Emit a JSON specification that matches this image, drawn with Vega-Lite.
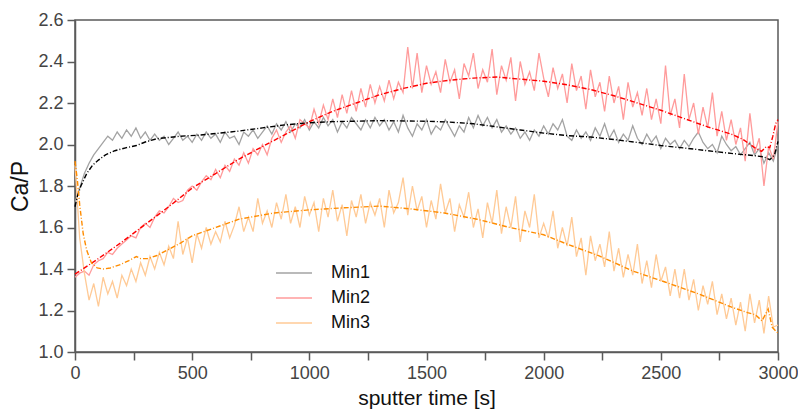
{
"$schema": "https://vega.github.io/schema/vega-lite/v6.json",
"width": 703, "height": 332,
"autosize": {"type": "none"},
"padding": {"left": 75, "top": 20, "right": 20, "bottom": 64},
"config": {
  "view": {"stroke": "#5a5a5a", "strokeWidth": 1.5},
  "font": "Liberation Sans",
  "axis": {"grid": false, "domainColor": "#5a5a5a", "domainWidth": 1.5, "tickColor": "#5a5a5a", "tickWidth": 1.5, "tickSize": 8, "labelFontSize": 18, "labelColor": "#444444", "labelPadding": 4, "labelFlush": false, "titleFontSize": 21, "titleFontWeight": "normal", "titleColor": "#111111"}
},
"datasets": {
"raw": [
{"t":0,"s":"Min1","v":1.72},{"t":20,"s":"Min1","v":1.79},{"t":40,"s":"Min1","v":1.86},{"t":60,"s":"Min1","v":1.91},{"t":80,"s":"Min1","v":1.95},{"t":100,"s":"Min1","v":1.98},{"t":120,"s":"Min1","v":2.01},{"t":140,"s":"Min1","v":2.04},{"t":160,"s":"Min1","v":2.02},{"t":180,"s":"Min1","v":2.06},{"t":200,"s":"Min1","v":2.03},{"t":220,"s":"Min1","v":2.07},{"t":240,"s":"Min1","v":2.04},{"t":260,"s":"Min1","v":2.08},{"t":280,"s":"Min1","v":2.03},{"t":300,"s":"Min1","v":2.06},{"t":320,"s":"Min1","v":2.02},{"t":340,"s":"Min1","v":2.05},{"t":360,"s":"Min1","v":2.02},{"t":380,"s":"Min1","v":2.04},{"t":400,"s":"Min1","v":2.0},{"t":420,"s":"Min1","v":2.03},{"t":440,"s":"Min1","v":2.06},{"t":460,"s":"Min1","v":2.02},{"t":480,"s":"Min1","v":2.04},{"t":500,"s":"Min1","v":2.01},{"t":520,"s":"Min1","v":2.05},{"t":540,"s":"Min1","v":2.02},{"t":560,"s":"Min1","v":2.06},{"t":580,"s":"Min1","v":2.03},{"t":600,"s":"Min1","v":2.05},{"t":620,"s":"Min1","v":2.01},{"t":640,"s":"Min1","v":2.06},{"t":660,"s":"Min1","v":2.03},{"t":680,"s":"Min1","v":2.04},{"t":700,"s":"Min1","v":2.0},{"t":720,"s":"Min1","v":2.06},{"t":740,"s":"Min1","v":2.04},{"t":760,"s":"Min1","v":2.07},{"t":780,"s":"Min1","v":2.03},{"t":800,"s":"Min1","v":2.06},{"t":820,"s":"Min1","v":2.09},{"t":840,"s":"Min1","v":2.05},{"t":860,"s":"Min1","v":2.1},{"t":880,"s":"Min1","v":2.07},{"t":900,"s":"Min1","v":2.11},{"t":920,"s":"Min1","v":2.06},{"t":940,"s":"Min1","v":2.1},{"t":960,"s":"Min1","v":2.08},{"t":980,"s":"Min1","v":2.12},{"t":1000,"s":"Min1","v":2.07},{"t":1020,"s":"Min1","v":2.11},{"t":1040,"s":"Min1","v":2.08},{"t":1060,"s":"Min1","v":2.13},{"t":1080,"s":"Min1","v":2.09},{"t":1100,"s":"Min1","v":2.12},{"t":1120,"s":"Min1","v":2.06},{"t":1140,"s":"Min1","v":2.11},{"t":1160,"s":"Min1","v":2.08},{"t":1180,"s":"Min1","v":2.13},{"t":1200,"s":"Min1","v":2.1},{"t":1220,"s":"Min1","v":2.07},{"t":1240,"s":"Min1","v":2.12},{"t":1260,"s":"Min1","v":2.08},{"t":1280,"s":"Min1","v":2.13},{"t":1300,"s":"Min1","v":2.09},{"t":1320,"s":"Min1","v":2.12},{"t":1340,"s":"Min1","v":2.07},{"t":1360,"s":"Min1","v":2.11},{"t":1380,"s":"Min1","v":2.06},{"t":1400,"s":"Min1","v":2.14},{"t":1420,"s":"Min1","v":2.08},{"t":1440,"s":"Min1","v":2.04},{"t":1460,"s":"Min1","v":2.1},{"t":1480,"s":"Min1","v":2.07},{"t":1500,"s":"Min1","v":2.12},{"t":1520,"s":"Min1","v":2.05},{"t":1540,"s":"Min1","v":2.09},{"t":1560,"s":"Min1","v":2.07},{"t":1580,"s":"Min1","v":2.12},{"t":1600,"s":"Min1","v":2.08},{"t":1620,"s":"Min1","v":2.04},{"t":1640,"s":"Min1","v":2.09},{"t":1660,"s":"Min1","v":2.06},{"t":1680,"s":"Min1","v":2.13},{"t":1700,"s":"Min1","v":2.08},{"t":1720,"s":"Min1","v":2.14},{"t":1740,"s":"Min1","v":2.09},{"t":1760,"s":"Min1","v":2.13},{"t":1780,"s":"Min1","v":2.08},{"t":1800,"s":"Min1","v":2.12},{"t":1820,"s":"Min1","v":2.06},{"t":1840,"s":"Min1","v":2.09},{"t":1860,"s":"Min1","v":2.05},{"t":1880,"s":"Min1","v":2.08},{"t":1900,"s":"Min1","v":2.03},{"t":1920,"s":"Min1","v":2.06},{"t":1940,"s":"Min1","v":2.02},{"t":1960,"s":"Min1","v":2.07},{"t":1980,"s":"Min1","v":2.04},{"t":2000,"s":"Min1","v":2.09},{"t":2020,"s":"Min1","v":2.05},{"t":2040,"s":"Min1","v":2.1},{"t":2060,"s":"Min1","v":2.07},{"t":2080,"s":"Min1","v":2.12},{"t":2100,"s":"Min1","v":2.04},{"t":2120,"s":"Min1","v":2.02},{"t":2140,"s":"Min1","v":2.07},{"t":2160,"s":"Min1","v":2.03},{"t":2180,"s":"Min1","v":2.06},{"t":2200,"s":"Min1","v":2.02},{"t":2220,"s":"Min1","v":2.08},{"t":2240,"s":"Min1","v":2.04},{"t":2260,"s":"Min1","v":2.1},{"t":2280,"s":"Min1","v":2.03},{"t":2300,"s":"Min1","v":2.07},{"t":2320,"s":"Min1","v":2.01},{"t":2340,"s":"Min1","v":2.05},{"t":2360,"s":"Min1","v":2.02},{"t":2380,"s":"Min1","v":2.09},{"t":2400,"s":"Min1","v":2.03},{"t":2420,"s":"Min1","v":2.0},{"t":2440,"s":"Min1","v":2.05},{"t":2460,"s":"Min1","v":2.01},{"t":2480,"s":"Min1","v":2.04},{"t":2500,"s":"Min1","v":1.98},{"t":2520,"s":"Min1","v":2.03},{"t":2540,"s":"Min1","v":2.0},{"t":2560,"s":"Min1","v":2.02},{"t":2580,"s":"Min1","v":1.98},{"t":2600,"s":"Min1","v":2.02},{"t":2620,"s":"Min1","v":1.99},{"t":2640,"s":"Min1","v":2.03},{"t":2660,"s":"Min1","v":2.06},{"t":2680,"s":"Min1","v":2.01},{"t":2700,"s":"Min1","v":1.98},{"t":2720,"s":"Min1","v":2.0},{"t":2740,"s":"Min1","v":1.96},{"t":2760,"s":"Min1","v":2.04},{"t":2780,"s":"Min1","v":2.0},{"t":2800,"s":"Min1","v":1.97},{"t":2820,"s":"Min1","v":1.99},{"t":2840,"s":"Min1","v":1.95},{"t":2860,"s":"Min1","v":1.98},{"t":2880,"s":"Min1","v":2.01},{"t":2900,"s":"Min1","v":1.95},{"t":2920,"s":"Min1","v":1.98},{"t":2940,"s":"Min1","v":1.91},{"t":2960,"s":"Min1","v":1.96},{"t":2980,"s":"Min1","v":1.92},{"t":3000,"s":"Min1","v":2.0},
{"t":0,"s":"Min2","v":1.36},{"t":20,"s":"Min2","v":1.38},{"t":40,"s":"Min2","v":1.39},{"t":60,"s":"Min2","v":1.37},{"t":80,"s":"Min2","v":1.42},{"t":100,"s":"Min2","v":1.44},{"t":120,"s":"Min2","v":1.45},{"t":140,"s":"Min2","v":1.48},{"t":160,"s":"Min2","v":1.47},{"t":180,"s":"Min2","v":1.5},{"t":200,"s":"Min2","v":1.52},{"t":220,"s":"Min2","v":1.54},{"t":240,"s":"Min2","v":1.56},{"t":260,"s":"Min2","v":1.55},{"t":280,"s":"Min2","v":1.6},{"t":300,"s":"Min2","v":1.62},{"t":320,"s":"Min2","v":1.6},{"t":340,"s":"Min2","v":1.65},{"t":360,"s":"Min2","v":1.68},{"t":380,"s":"Min2","v":1.67},{"t":400,"s":"Min2","v":1.7},{"t":420,"s":"Min2","v":1.74},{"t":440,"s":"Min2","v":1.72},{"t":460,"s":"Min2","v":1.73},{"t":480,"s":"Min2","v":1.78},{"t":500,"s":"Min2","v":1.8},{"t":520,"s":"Min2","v":1.78},{"t":540,"s":"Min2","v":1.82},{"t":560,"s":"Min2","v":1.85},{"t":580,"s":"Min2","v":1.83},{"t":600,"s":"Min2","v":1.88},{"t":620,"s":"Min2","v":1.84},{"t":640,"s":"Min2","v":1.9},{"t":660,"s":"Min2","v":1.87},{"t":680,"s":"Min2","v":1.93},{"t":700,"s":"Min2","v":1.9},{"t":720,"s":"Min2","v":1.96},{"t":740,"s":"Min2","v":1.91},{"t":760,"s":"Min2","v":1.98},{"t":780,"s":"Min2","v":1.95},{"t":800,"s":"Min2","v":2.0},{"t":820,"s":"Min2","v":1.95},{"t":840,"s":"Min2","v":2.03},{"t":860,"s":"Min2","v":2.07},{"t":880,"s":"Min2","v":2.01},{"t":900,"s":"Min2","v":2.06},{"t":920,"s":"Min2","v":2.09},{"t":940,"s":"Min2","v":2.03},{"t":960,"s":"Min2","v":2.12},{"t":980,"s":"Min2","v":2.1},{"t":1000,"s":"Min2","v":2.08},{"t":1020,"s":"Min2","v":2.17},{"t":1040,"s":"Min2","v":2.1},{"t":1060,"s":"Min2","v":2.19},{"t":1080,"s":"Min2","v":2.12},{"t":1100,"s":"Min2","v":2.22},{"t":1120,"s":"Min2","v":2.13},{"t":1140,"s":"Min2","v":2.24},{"t":1160,"s":"Min2","v":2.15},{"t":1180,"s":"Min2","v":2.26},{"t":1200,"s":"Min2","v":2.16},{"t":1220,"s":"Min2","v":2.27},{"t":1240,"s":"Min2","v":2.18},{"t":1260,"s":"Min2","v":2.29},{"t":1280,"s":"Min2","v":2.2},{"t":1300,"s":"Min2","v":2.28},{"t":1320,"s":"Min2","v":2.21},{"t":1340,"s":"Min2","v":2.31},{"t":1360,"s":"Min2","v":2.22},{"t":1380,"s":"Min2","v":2.3},{"t":1400,"s":"Min2","v":2.25},{"t":1420,"s":"Min2","v":2.47},{"t":1440,"s":"Min2","v":2.27},{"t":1460,"s":"Min2","v":2.44},{"t":1480,"s":"Min2","v":2.25},{"t":1500,"s":"Min2","v":2.38},{"t":1520,"s":"Min2","v":2.29},{"t":1540,"s":"Min2","v":2.35},{"t":1560,"s":"Min2","v":2.25},{"t":1580,"s":"Min2","v":2.41},{"t":1600,"s":"Min2","v":2.3},{"t":1620,"s":"Min2","v":2.36},{"t":1640,"s":"Min2","v":2.22},{"t":1660,"s":"Min2","v":2.39},{"t":1680,"s":"Min2","v":2.33},{"t":1700,"s":"Min2","v":2.44},{"t":1720,"s":"Min2","v":2.27},{"t":1740,"s":"Min2","v":2.36},{"t":1760,"s":"Min2","v":2.3},{"t":1780,"s":"Min2","v":2.46},{"t":1800,"s":"Min2","v":2.24},{"t":1820,"s":"Min2","v":2.38},{"t":1840,"s":"Min2","v":2.31},{"t":1860,"s":"Min2","v":2.42},{"t":1880,"s":"Min2","v":2.21},{"t":1900,"s":"Min2","v":2.4},{"t":1920,"s":"Min2","v":2.29},{"t":1940,"s":"Min2","v":2.35},{"t":1960,"s":"Min2","v":2.26},{"t":1980,"s":"Min2","v":2.44},{"t":2000,"s":"Min2","v":2.32},{"t":2020,"s":"Min2","v":2.23},{"t":2040,"s":"Min2","v":2.37},{"t":2060,"s":"Min2","v":2.27},{"t":2080,"s":"Min2","v":2.34},{"t":2100,"s":"Min2","v":2.2},{"t":2120,"s":"Min2","v":2.39},{"t":2140,"s":"Min2","v":2.26},{"t":2160,"s":"Min2","v":2.33},{"t":2180,"s":"Min2","v":2.17},{"t":2200,"s":"Min2","v":2.36},{"t":2220,"s":"Min2","v":2.23},{"t":2240,"s":"Min2","v":2.3},{"t":2260,"s":"Min2","v":2.16},{"t":2280,"s":"Min2","v":2.33},{"t":2300,"s":"Min2","v":2.2},{"t":2320,"s":"Min2","v":2.28},{"t":2340,"s":"Min2","v":2.12},{"t":2360,"s":"Min2","v":2.3},{"t":2380,"s":"Min2","v":2.18},{"t":2400,"s":"Min2","v":2.25},{"t":2420,"s":"Min2","v":2.14},{"t":2440,"s":"Min2","v":2.27},{"t":2460,"s":"Min2","v":2.12},{"t":2480,"s":"Min2","v":2.22},{"t":2500,"s":"Min2","v":2.1},{"t":2520,"s":"Min2","v":2.38},{"t":2540,"s":"Min2","v":2.14},{"t":2560,"s":"Min2","v":2.22},{"t":2580,"s":"Min2","v":2.08},{"t":2600,"s":"Min2","v":2.34},{"t":2620,"s":"Min2","v":2.12},{"t":2640,"s":"Min2","v":2.2},{"t":2660,"s":"Min2","v":2.05},{"t":2680,"s":"Min2","v":2.18},{"t":2700,"s":"Min2","v":2.08},{"t":2720,"s":"Min2","v":2.25},{"t":2740,"s":"Min2","v":2.04},{"t":2760,"s":"Min2","v":2.16},{"t":2780,"s":"Min2","v":2.02},{"t":2800,"s":"Min2","v":2.12},{"t":2820,"s":"Min2","v":2.0},{"t":2840,"s":"Min2","v":2.08},{"t":2860,"s":"Min2","v":1.92},{"t":2880,"s":"Min2","v":2.15},{"t":2900,"s":"Min2","v":1.96},{"t":2920,"s":"Min2","v":2.03},{"t":2940,"s":"Min2","v":1.8},{"t":2960,"s":"Min2","v":1.99},{"t":2980,"s":"Min2","v":1.93},{"t":3000,"s":"Min2","v":2.11},
{"t":0,"s":"Min3","v":1.9},{"t":20,"s":"Min3","v":1.55},{"t":40,"s":"Min3","v":1.38},{"t":60,"s":"Min3","v":1.25},{"t":80,"s":"Min3","v":1.33},{"t":100,"s":"Min3","v":1.22},{"t":120,"s":"Min3","v":1.36},{"t":140,"s":"Min3","v":1.28},{"t":160,"s":"Min3","v":1.34},{"t":180,"s":"Min3","v":1.26},{"t":200,"s":"Min3","v":1.37},{"t":220,"s":"Min3","v":1.32},{"t":240,"s":"Min3","v":1.4},{"t":260,"s":"Min3","v":1.34},{"t":280,"s":"Min3","v":1.43},{"t":300,"s":"Min3","v":1.37},{"t":320,"s":"Min3","v":1.46},{"t":340,"s":"Min3","v":1.4},{"t":360,"s":"Min3","v":1.48},{"t":380,"s":"Min3","v":1.42},{"t":400,"s":"Min3","v":1.51},{"t":420,"s":"Min3","v":1.45},{"t":440,"s":"Min3","v":1.63},{"t":460,"s":"Min3","v":1.47},{"t":480,"s":"Min3","v":1.55},{"t":500,"s":"Min3","v":1.43},{"t":520,"s":"Min3","v":1.57},{"t":540,"s":"Min3","v":1.5},{"t":560,"s":"Min3","v":1.6},{"t":580,"s":"Min3","v":1.52},{"t":600,"s":"Min3","v":1.58},{"t":620,"s":"Min3","v":1.53},{"t":640,"s":"Min3","v":1.63},{"t":660,"s":"Min3","v":1.55},{"t":680,"s":"Min3","v":1.61},{"t":700,"s":"Min3","v":1.7},{"t":720,"s":"Min3","v":1.58},{"t":740,"s":"Min3","v":1.65},{"t":760,"s":"Min3","v":1.58},{"t":780,"s":"Min3","v":1.74},{"t":800,"s":"Min3","v":1.62},{"t":820,"s":"Min3","v":1.68},{"t":840,"s":"Min3","v":1.6},{"t":860,"s":"Min3","v":1.72},{"t":880,"s":"Min3","v":1.64},{"t":900,"s":"Min3","v":1.76},{"t":920,"s":"Min3","v":1.62},{"t":940,"s":"Min3","v":1.7},{"t":960,"s":"Min3","v":1.6},{"t":980,"s":"Min3","v":1.75},{"t":1000,"s":"Min3","v":1.66},{"t":1020,"s":"Min3","v":1.72},{"t":1040,"s":"Min3","v":1.58},{"t":1060,"s":"Min3","v":1.74},{"t":1080,"s":"Min3","v":1.65},{"t":1100,"s":"Min3","v":1.78},{"t":1120,"s":"Min3","v":1.63},{"t":1140,"s":"Min3","v":1.71},{"t":1160,"s":"Min3","v":1.56},{"t":1180,"s":"Min3","v":1.73},{"t":1200,"s":"Min3","v":1.65},{"t":1220,"s":"Min3","v":1.76},{"t":1240,"s":"Min3","v":1.62},{"t":1260,"s":"Min3","v":1.72},{"t":1280,"s":"Min3","v":1.66},{"t":1300,"s":"Min3","v":1.74},{"t":1320,"s":"Min3","v":1.6},{"t":1340,"s":"Min3","v":1.78},{"t":1360,"s":"Min3","v":1.67},{"t":1380,"s":"Min3","v":1.72},{"t":1400,"s":"Min3","v":1.84},{"t":1420,"s":"Min3","v":1.66},{"t":1440,"s":"Min3","v":1.8},{"t":1460,"s":"Min3","v":1.68},{"t":1480,"s":"Min3","v":1.75},{"t":1500,"s":"Min3","v":1.6},{"t":1520,"s":"Min3","v":1.73},{"t":1540,"s":"Min3","v":1.64},{"t":1560,"s":"Min3","v":1.81},{"t":1580,"s":"Min3","v":1.67},{"t":1600,"s":"Min3","v":1.74},{"t":1620,"s":"Min3","v":1.58},{"t":1640,"s":"Min3","v":1.71},{"t":1660,"s":"Min3","v":1.65},{"t":1680,"s":"Min3","v":1.77},{"t":1700,"s":"Min3","v":1.6},{"t":1720,"s":"Min3","v":1.69},{"t":1740,"s":"Min3","v":1.55},{"t":1760,"s":"Min3","v":1.72},{"t":1780,"s":"Min3","v":1.62},{"t":1800,"s":"Min3","v":1.78},{"t":1820,"s":"Min3","v":1.57},{"t":1840,"s":"Min3","v":1.7},{"t":1860,"s":"Min3","v":1.6},{"t":1880,"s":"Min3","v":1.75},{"t":1900,"s":"Min3","v":1.53},{"t":1920,"s":"Min3","v":1.68},{"t":1940,"s":"Min3","v":1.6},{"t":1960,"s":"Min3","v":1.76},{"t":1980,"s":"Min3","v":1.55},{"t":2000,"s":"Min3","v":1.62},{"t":2020,"s":"Min3","v":1.55},{"t":2040,"s":"Min3","v":1.68},{"t":2060,"s":"Min3","v":1.5},{"t":2080,"s":"Min3","v":1.6},{"t":2100,"s":"Min3","v":1.51},{"t":2120,"s":"Min3","v":1.65},{"t":2140,"s":"Min3","v":1.46},{"t":2160,"s":"Min3","v":1.55},{"t":2180,"s":"Min3","v":1.37},{"t":2200,"s":"Min3","v":1.56},{"t":2220,"s":"Min3","v":1.44},{"t":2240,"s":"Min3","v":1.52},{"t":2260,"s":"Min3","v":1.41},{"t":2280,"s":"Min3","v":1.58},{"t":2300,"s":"Min3","v":1.39},{"t":2320,"s":"Min3","v":1.5},{"t":2340,"s":"Min3","v":1.36},{"t":2360,"s":"Min3","v":1.47},{"t":2380,"s":"Min3","v":1.37},{"t":2400,"s":"Min3","v":1.52},{"t":2420,"s":"Min3","v":1.33},{"t":2440,"s":"Min3","v":1.44},{"t":2460,"s":"Min3","v":1.31},{"t":2480,"s":"Min3","v":1.47},{"t":2500,"s":"Min3","v":1.34},{"t":2520,"s":"Min3","v":1.41},{"t":2540,"s":"Min3","v":1.27},{"t":2560,"s":"Min3","v":1.4},{"t":2580,"s":"Min3","v":1.26},{"t":2600,"s":"Min3","v":1.4},{"t":2620,"s":"Min3","v":1.25},{"t":2640,"s":"Min3","v":1.35},{"t":2660,"s":"Min3","v":1.2},{"t":2680,"s":"Min3","v":1.32},{"t":2700,"s":"Min3","v":1.23},{"t":2720,"s":"Min3","v":1.34},{"t":2740,"s":"Min3","v":1.18},{"t":2760,"s":"Min3","v":1.28},{"t":2780,"s":"Min3","v":1.16},{"t":2800,"s":"Min3","v":1.26},{"t":2820,"s":"Min3","v":1.13},{"t":2840,"s":"Min3","v":1.24},{"t":2860,"s":"Min3","v":1.1},{"t":2880,"s":"Min3","v":1.28},{"t":2900,"s":"Min3","v":1.14},{"t":2920,"s":"Min3","v":1.25},{"t":2940,"s":"Min3","v":1.09},{"t":2960,"s":"Min3","v":1.27},{"t":2980,"s":"Min3","v":1.12},{"t":3000,"s":"Min3","v":1.13}
],
"fit": [
{"t":0,"s":"Min1","v":1.7},{"t":10,"s":"Min1","v":1.75},{"t":25,"s":"Min1","v":1.8},{"t":50,"s":"Min1","v":1.86},{"t":75,"s":"Min1","v":1.9},{"t":100,"s":"Min1","v":1.925},{"t":130,"s":"Min1","v":1.95},{"t":170,"s":"Min1","v":1.97},{"t":220,"s":"Min1","v":1.985},{"t":262,"s":"Min1","v":1.995},{"t":300,"s":"Min1","v":2.012},{"t":350,"s":"Min1","v":2.028},{"t":450,"s":"Min1","v":2.04},{"t":530,"s":"Min1","v":2.045},{"t":620,"s":"Min1","v":2.055},{"t":700,"s":"Min1","v":2.065},{"t":800,"s":"Min1","v":2.08},{"t":900,"s":"Min1","v":2.095},{"t":1000,"s":"Min1","v":2.105},{"t":1100,"s":"Min1","v":2.11},{"t":1300,"s":"Min1","v":2.115},{"t":1500,"s":"Min1","v":2.112},{"t":1600,"s":"Min1","v":2.108},{"t":1700,"s":"Min1","v":2.1},{"t":1800,"s":"Min1","v":2.085},{"t":1900,"s":"Min1","v":2.07},{"t":2000,"s":"Min1","v":2.055},{"t":2100,"s":"Min1","v":2.043},{"t":2200,"s":"Min1","v":2.036},{"t":2300,"s":"Min1","v":2.024},{"t":2400,"s":"Min1","v":2.01},{"t":2500,"s":"Min1","v":1.995},{"t":2600,"s":"Min1","v":1.983},{"t":2700,"s":"Min1","v":1.97},{"t":2800,"s":"Min1","v":1.957},{"t":2900,"s":"Min1","v":1.946},{"t":2940,"s":"Min1","v":1.94},{"t":2965,"s":"Min1","v":1.927},{"t":2985,"s":"Min1","v":1.95},{"t":3000,"s":"Min1","v":2.015},
{"t":0,"s":"Min2","v":1.375},{"t":100,"s":"Min2","v":1.45},{"t":200,"s":"Min2","v":1.53},{"t":300,"s":"Min2","v":1.615},{"t":400,"s":"Min2","v":1.7},{"t":500,"s":"Min2","v":1.79},{"t":600,"s":"Min2","v":1.86},{"t":700,"s":"Min2","v":1.93},{"t":800,"s":"Min2","v":1.99},{"t":900,"s":"Min2","v":2.05},{"t":1000,"s":"Min2","v":2.11},{"t":1100,"s":"Min2","v":2.16},{"t":1200,"s":"Min2","v":2.2},{"t":1300,"s":"Min2","v":2.24},{"t":1400,"s":"Min2","v":2.27},{"t":1500,"s":"Min2","v":2.295},{"t":1600,"s":"Min2","v":2.31},{"t":1700,"s":"Min2","v":2.32},{"t":1800,"s":"Min2","v":2.325},{"t":1900,"s":"Min2","v":2.315},{"t":2000,"s":"Min2","v":2.305},{"t":2100,"s":"Min2","v":2.288},{"t":2200,"s":"Min2","v":2.265},{"t":2300,"s":"Min2","v":2.235},{"t":2400,"s":"Min2","v":2.2},{"t":2500,"s":"Min2","v":2.165},{"t":2600,"s":"Min2","v":2.125},{"t":2700,"s":"Min2","v":2.085},{"t":2800,"s":"Min2","v":2.05},{"t":2850,"s":"Min2","v":2.025},{"t":2900,"s":"Min2","v":1.985},{"t":2930,"s":"Min2","v":1.967},{"t":2950,"s":"Min2","v":1.99},{"t":2965,"s":"Min2","v":1.985},{"t":2978,"s":"Min2","v":2.04},{"t":2990,"s":"Min2","v":2.1},{"t":3000,"s":"Min2","v":2.12},
{"t":0,"s":"Min3","v":1.92},{"t":10,"s":"Min3","v":1.83},{"t":20,"s":"Min3","v":1.71},{"t":35,"s":"Min3","v":1.57},{"t":50,"s":"Min3","v":1.49},{"t":70,"s":"Min3","v":1.43},{"t":95,"s":"Min3","v":1.405},{"t":120,"s":"Min3","v":1.4},{"t":150,"s":"Min3","v":1.405},{"t":190,"s":"Min3","v":1.42},{"t":230,"s":"Min3","v":1.44},{"t":262,"s":"Min3","v":1.46},{"t":280,"s":"Min3","v":1.45},{"t":310,"s":"Min3","v":1.45},{"t":350,"s":"Min3","v":1.465},{"t":400,"s":"Min3","v":1.495},{"t":450,"s":"Min3","v":1.525},{"t":500,"s":"Min3","v":1.56},{"t":600,"s":"Min3","v":1.6},{"t":700,"s":"Min3","v":1.64},{"t":850,"s":"Min3","v":1.67},{"t":1000,"s":"Min3","v":1.685},{"t":1150,"s":"Min3","v":1.695},{"t":1300,"s":"Min3","v":1.703},{"t":1430,"s":"Min3","v":1.69},{"t":1576,"s":"Min3","v":1.67},{"t":1716,"s":"Min3","v":1.64},{"t":1856,"s":"Min3","v":1.6},{"t":2000,"s":"Min3","v":1.565},{"t":2100,"s":"Min3","v":1.52},{"t":2237,"s":"Min3","v":1.463},{"t":2381,"s":"Min3","v":1.39},{"t":2521,"s":"Min3","v":1.336},{"t":2661,"s":"Min3","v":1.28},{"t":2805,"s":"Min3","v":1.215},{"t":2870,"s":"Min3","v":1.19},{"t":2903,"s":"Min3","v":1.18},{"t":2932,"s":"Min3","v":1.15},{"t":2958,"s":"Min3","v":1.207},{"t":2975,"s":"Min3","v":1.12},{"t":3000,"s":"Min3","v":1.09}
]
},
"layer": [
{
 "data": {"name": "raw"},
 "mark": {"type": "line", "strokeWidth": 1.3},
 "encoding": {
  "x": {"field": "t", "type": "quantitative", "scale": {"domain": [0, 3000], "nice": false},
        "axis": {"title": "sputter time [s]", "values": [0,250,500,750,1000,1250,1500,1750,2000,2250,2500,2750,3000], "format": "d", "labelExpr": "datum.value % 500 === 0 ? datum.label : ''", "titlePadding": 5}},
  "y": {"field": "v", "type": "quantitative", "scale": {"domain": [1.0, 2.6], "nice": false},
        "axis": {"title": "Ca/P", "values": [1.0,1.2,1.4,1.6,1.8,2.0,2.2,2.4,2.6], "format": ".1f", "titleFontSize": 23, "titlePadding": 5}},
  "color": {"field": "s", "type": "nominal", "scale": {"domain": ["Min1","Min2","Min3"], "range": ["#a3a3a3","#ff9b9b","#ffca96"]},
        "legend": {"orient": "none", "legendX": 206, "legendY": 240, "title": null, "symbolType": "M-1.5,0L1.5,0", "symbolSize": 576, "symbolStrokeWidth": 1.6, "labelFontSize": 18, "labelColor": "#111111", "rowPadding": 3, "labelOffset": 24, "padding": 0}}
 }
},
{
 "data": {"name": "fit"},
 "mark": {"type": "line", "strokeWidth": 1.4, "strokeDash": [5, 2, 1, 2]},
 "encoding": {
  "x": {"field": "t", "type": "quantitative"},
  "y": {"field": "v", "type": "quantitative"},
  "stroke": {"field": "s", "type": "nominal", "scale": {"domain": ["Min1","Min2","Min3"], "range": ["#000000","#ff0000","#ff8c00"]}, "legend": null}
 }
}
]
}
